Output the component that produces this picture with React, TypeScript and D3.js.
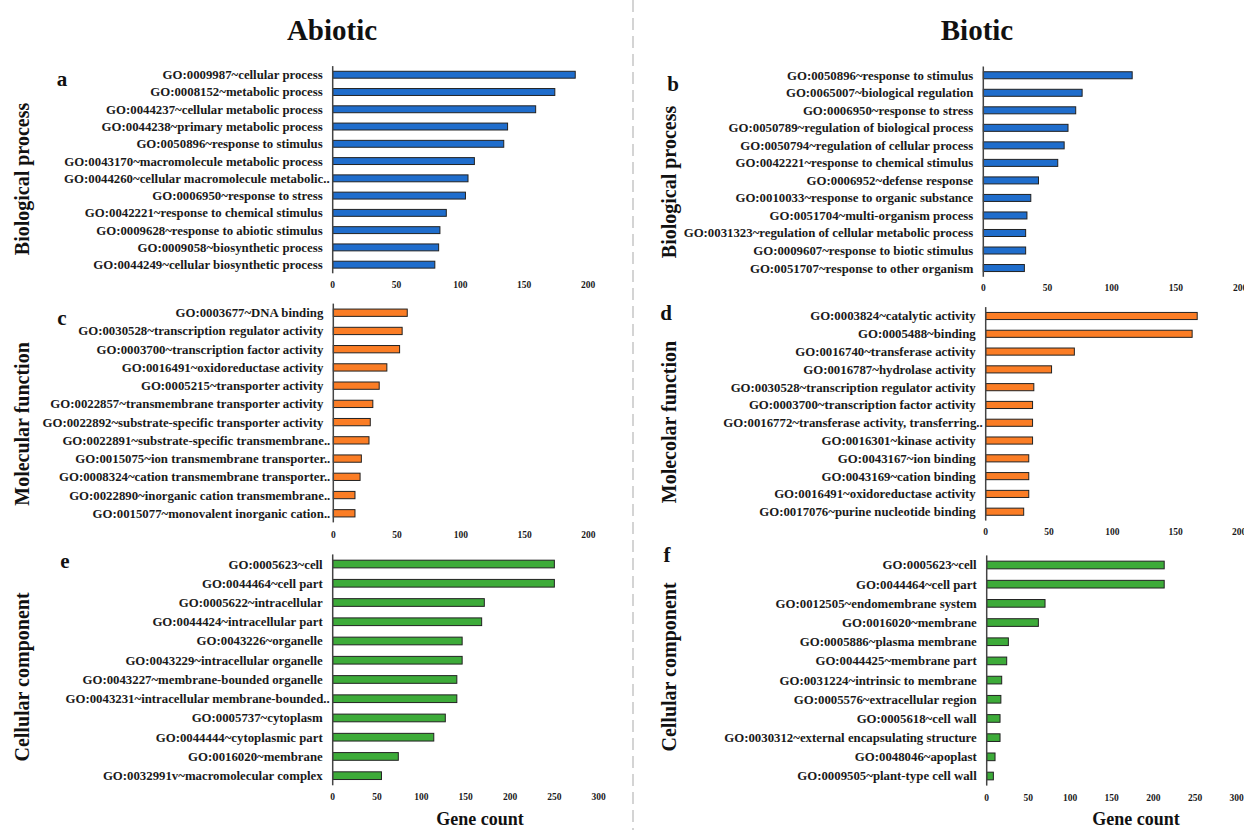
import React from 'react';
import * as d3 from 'd3';

// panel a — abiotic, biological process
const bpAbioticTerms = [
  'GO:0009987~cellular process',
  'GO:0008152~metabolic process',
  'GO:0044237~cellular metabolic process',
  'GO:0044238~primary metabolic process',
  'GO:0050896~response to stimulus',
  'GO:0043170~macromolecule metabolic process',
  'GO:0044260~cellular macromolecule metabolic..',
  'GO:0006950~response to stress',
  'GO:0042221~response to chemical stimulus',
  'GO:0009628~response to abiotic stimulus',
  'GO:0009058~biosynthetic process',
  'GO:0044249~cellular biosynthetic process',
];
const bpAbioticCounts = [190, 174, 159, 137, 134, 111, 106, 104, 89, 84, 83, 80];

// panel b — biotic, biological process
const bpBioticTerms = [
  'GO:0050896~response to stimulus',
  'GO:0065007~biological regulation',
  'GO:0006950~response to stress',
  'GO:0050789~regulation of biological process',
  'GO:0050794~regulation of cellular process',
  'GO:0042221~response to chemical stimulus',
  'GO:0006952~defense response',
  'GO:0010033~response to organic substance',
  'GO:0051704~multi-organism process',
  'GO:0031323~regulation of cellular metabolic process',
  'GO:0009607~response to biotic stimulus',
  'GO:0051707~response to other organism',
];
const bpBioticCounts = [116, 77, 72, 66, 63, 58, 43, 37, 34, 33, 33, 32];

// panel c — abiotic, molecular function
const mfAbioticTerms = [
  'GO:0003677~DNA binding',
  'GO:0030528~transcription regulator activity',
  'GO:0003700~transcription factor activity',
  'GO:0016491~oxidoreductase activity',
  'GO:0005215~transporter activity',
  'GO:0022857~transmembrane transporter activity',
  'GO:0022892~substrate-specific transporter activity',
  'GO:0022891~substrate-specific transmembrane..',
  'GO:0015075~ion transmembrane transporter..',
  'GO:0008324~cation transmembrane transporter..',
  'GO:0022890~inorganic cation transmembrane..',
  'GO:0015077~monovalent inorganic cation..',
];
const mfAbioticCounts = [58, 54, 52, 42, 36, 31, 29, 28, 22, 21, 17, 17];

// panel d — biotic, molecular function
const mfBioticTerms = [
  'GO:0003824~catalytic activity',
  'GO:0005488~binding',
  'GO:0016740~transferase activity',
  'GO:0016787~hydrolase activity',
  'GO:0030528~transcription regulator activity',
  'GO:0003700~transcription factor activity',
  'GO:0016772~transferase activity, transferring..',
  'GO:0016301~kinase activity',
  'GO:0043167~ion binding',
  'GO:0043169~cation binding',
  'GO:0016491~oxidoreductase activity',
  'GO:0017076~purine nucleotide binding',
];
const mfBioticCounts = [167, 163, 70, 52, 38, 37, 37, 37, 34, 34, 34, 30];

// panel e — abiotic, cellular component
const ccAbioticTerms = [
  'GO:0005623~cell',
  'GO:0044464~cell part',
  'GO:0005622~intracellular',
  'GO:0044424~intracellular part',
  'GO:0043226~organelle',
  'GO:0043229~intracellular organelle',
  'GO:0043227~membrane-bounded organelle',
  'GO:0043231~intracellular membrane-bounded..',
  'GO:0005737~cytoplasm',
  'GO:0044444~cytoplasmic part',
  'GO:0016020~membrane',
  'GO:0032991v~macromolecular complex',
];
const ccAbioticCounts = [250, 250, 171, 168, 146, 146, 140, 140, 127, 114, 74, 55];

// panel f — biotic, cellular component
const ccBioticTerms = [
  'GO:0005623~cell',
  'GO:0044464~cell part',
  'GO:0012505~endomembrane system',
  'GO:0016020~membrane',
  'GO:0005886~plasma membrane',
  'GO:0044425~membrane part',
  'GO:0031224~intrinsic to membrane',
  'GO:0005576~extracellular region',
  'GO:0005618~cell wall',
  'GO:0030312~external encapsulating structure',
  'GO:0048046~apoplast',
  'GO:0009505~plant-type cell wall',
];
const ccBioticCounts = [213, 213, 70, 62, 26, 24, 18, 17, 16, 16, 10, 8];

const ticks200 = [0, 50, 100, 150, 200];
const ticks300 = [0, 50, 100, 150, 200, 250, 300];

const BLUE = '#1f6dcc';
const ORANGE = '#fb7d25';
const GREEN = '#3dab39';
const FONT = '"Liberation Serif", "Times New Roman", serif';

interface PanelProps {
  terms: string[];
  counts: number[];
  ticks: number[];
  color: string;
  axisX: number;
  axisEnd: number;
  top: number;
  bottom: number;
  tickY: number;
}

const Panel: React.FC<PanelProps> = ({ terms, counts, ticks, color, axisX, axisEnd, top, bottom, tickY }) => {
  const x = d3.scaleLinear().domain([0, ticks[ticks.length - 1]]).range([axisX, axisEnd]);
  const y = d3.scaleBand<string>().domain(terms).range([top, bottom]).paddingInner(0.6).paddingOuter(0.3);
  const bw = y.bandwidth();
  return (
    <g>
      {terms.map((t, i) => (
        <g key={t}>
          <rect x={x(0)} y={y(t)!} width={x(counts[i]) - x(0)} height={bw}
            fill={color} stroke="#222" strokeWidth={1} />
          <text x={t.endsWith('..') ? axisX - 3 : axisX - 10} y={y(t)! + bw / 2} dy="0.35em"
            textAnchor="end" fontSize={12.8} fontWeight="bold" fill="#1a1a1a">{t}</text>
        </g>
      ))}
      <line x1={axisX} x2={axisX} y1={top} y2={bottom} stroke="#444" strokeWidth={1.5} />
      {ticks.map(v => (
        <text key={v} x={x(v)} y={tickY} dy="0.35em" textAnchor="middle"
          fontSize={9.5} fontWeight="bold" fill="#1a1a1a">{v}</text>
      ))}
    </g>
  );
};

const RowTitle: React.FC<{ x: number; y: number; text: string }> = ({ x, y, text }) => (
  <text transform={`translate(${x},${y}) rotate(-90)`} textAnchor="middle" dy="0.35em"
    fontSize={20} fontWeight="bold" fill="#111">{text}</text>
);

const Letter: React.FC<{ x: number; y: number; text: string }> = ({ x, y, text }) => (
  <text x={x} y={y} dy="0.35em" textAnchor="middle" fontSize={21} fontWeight="bold" fill="#111">{text}</text>
);

export default function App() {
  return (
    <svg width={1244} height={830} viewBox="0 0 1244 830"
      style={{ position: 'absolute', left: 0, top: 0, background: '#fff' }} fontFamily={FONT}>
      <line x1={633} x2={633} y1={0} y2={830} stroke="#d4d4d4" strokeWidth={2} strokeDasharray="12 6" />

      <text x={332} y={30} dy="0.35em" textAnchor="middle" fontSize={29} fontWeight="bold" fill="#111">Abiotic</text>
      <text x={977} y={30} dy="0.35em" textAnchor="middle" fontSize={29} fontWeight="bold" fill="#111">Biotic</text>

      <RowTitle x={22} y={179} text="Biological process" />
      <RowTitle x={22} y={424} text="Molecular function" />
      <RowTitle x={22} y={677} text="Cellular component" />
      <RowTitle x={669} y={182} text="Biological process" />
      <RowTitle x={669} y={422} text="Molecolar function" />
      <RowTitle x={669} y={667} text="Cellular component" />

      <Letter x={62} y={79} text="a" />
      <Letter x={673} y={84} text="b" />
      <Letter x={62} y={318} text="c" />
      <Letter x={666} y={313} text="d" />
      <Letter x={65} y={561} text="e" />
      <Letter x={667} y={555} text="f" />

      <Panel terms={bpAbioticTerms} counts={bpAbioticCounts} ticks={ticks200} color={BLUE}
        axisX={332.7} axisEnd={588} top={66.1} bottom={273.3} tickY={285} />
      <Panel terms={bpBioticTerms} counts={bpBioticCounts} ticks={ticks200} color={BLUE}
        axisX={983.3} axisEnd={1240} top={66.5} bottom={276.8} tickY={288} />
      <Panel terms={mfAbioticTerms} counts={mfAbioticCounts} ticks={ticks200} color={ORANGE}
        axisX={333.3} axisEnd={588.3} top={303.6} bottom={522.4} tickY={535} />
      <Panel terms={mfBioticTerms} counts={mfBioticCounts} ticks={ticks200} color={ORANGE}
        axisX={985.7} axisEnd={1239} top={307.1} bottom={520.6} tickY={532} />
      <Panel terms={ccAbioticTerms} counts={ccAbioticCounts} ticks={ticks300} color={GREEN}
        axisX={332.7} axisEnd={598.7} top={554.4} bottom={785.3} tickY={797} />
      <Panel terms={ccBioticTerms} counts={ccBioticCounts} ticks={ticks300} color={GREEN}
        axisX={986.7} axisEnd={1236.7} top={555.4} bottom={785.6} tickY={798} />

      <text x={480} y={819} dy="0.35em" textAnchor="middle" fontSize={18} fontWeight="bold" fill="#111">Gene count</text>
      <text x={1136} y={819} dy="0.35em" textAnchor="middle" fontSize={18} fontWeight="bold" fill="#111">Gene count</text>
    </svg>
  );
}
